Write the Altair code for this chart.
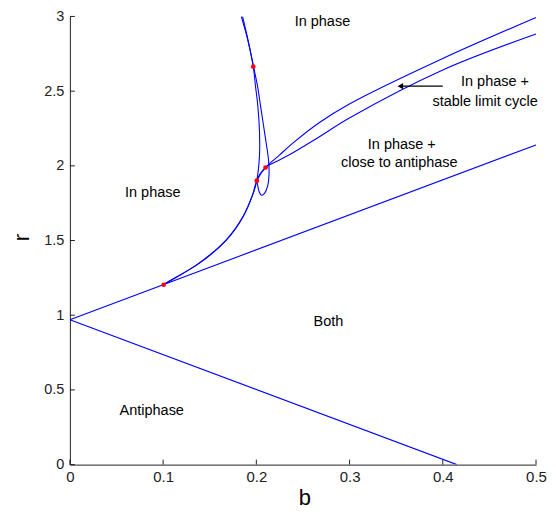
import altair as alt
import pandas as pd

# Straight boundaries
line_up_b = [0.0, 0.5]
line_up_r = [0.97, 2.14]
line_down_b = [0.0, 0.415]
line_down_r = [0.97, 0.0]

# Curve A: from tangent point up the left branch to the top
curveA_b = [0.1006, 0.1017, 0.1392, 0.1678, 0.1855, 0.1963, 0.2005, 0.2034, 0.2034, 0.2016, 0.1991, 0.1967, 0.1909, 0.1838]
curveA_r = [1.204, 1.211, 1.349, 1.502, 1.656, 1.809, 1.901, 2.072, 2.226, 2.401, 2.533, 2.664, 2.840, 3.0]

# Curve B: from the top, right branch, loop, then lower ray
curveB_b = [0.1852, 0.1911, 0.1970, 0.2013, 0.2045, 0.2077, 0.2109, 0.2131, 0.2136, 0.2120, 0.2088, 0.2056, 0.2029, 0.2013, 0.2005,
            0.2099, 0.2248, 0.2388, 0.2677, 0.2998, 0.3994, 0.5]
curveB_r = [3.0, 2.842, 2.664, 2.533, 2.401, 2.270, 2.138, 2.039, 1.941, 1.862, 1.816, 1.803, 1.829, 1.875, 1.901,
            1.989, 2.039, 2.086, 2.195, 2.320, 2.640, 2.882]

# Curve C: from tangent point up to the cusp, then upper ray
curveC_b = [0.1006, 0.1392, 0.1678, 0.1855, 0.1963, 0.2005, 0.2099, 0.2248, 0.2388, 0.2677, 0.2998, 0.3994, 0.5]
curveC_r = [1.204, 1.352, 1.505, 1.659, 1.812, 1.901, 1.989, 2.072, 2.150, 2.290, 2.414, 2.717, 2.993]

# Special points
dots_b = [0.1006, 0.2005, 0.2099, 0.1967]
dots_r = [1.204, 1.901, 1.989, 2.664]

# Region labels
label_text = ["In phase", "In phase +", "stable limit cycle", "In phase +", "close to antiphase", "In phase", "Both", "Antiphase"]
label_b = [0.2709, 0.4560, 0.4454, 0.3560, 0.3533, 0.0889, 0.2773, 0.0878]
label_r = [2.960, 2.560, 2.428, 2.140, 2.020, 1.816, 0.954, 0.362]

# Arrow
arrow_b = [0.4000]
arrow_b2 = [0.3545]
arrow_r = [2.533]

x_ticks = [0, 0.1, 0.2, 0.3, 0.4, 0.5]
y_ticks = [0, 0.5, 1, 1.5, 2, 2.5, 3]

W, H = 467, 449
FONT = "Liberation Sans"

rows = []
for name, bs, rs in [("up", line_up_b, line_up_r), ("down", line_down_b, line_down_r),
                     ("A", curveA_b, curveA_r), ("B", curveB_b, curveB_r), ("C", curveC_b, curveC_r)]:
    for i, (b, r) in enumerate(zip(bs, rs)):
        rows.append({"curve": name, "i": i, "b": b, "r": r})
curves = pd.DataFrame(rows)

xs = alt.Scale(domain=[0, 0.5], nice=False, zero=False)
ys = alt.Scale(domain=[0, 3], nice=False, zero=False)

base_x = alt.X("b:Q", scale=xs, axis=alt.Axis(
    values=x_ticks, ticks=False, grid=False, format="~g", labelFontSize=15, labelFont=FONT,
    labelColor="#222", domainColor="#222", labelPadding=5, labelFlush=False, title="b", titleFont=FONT,
    titleFontSize=22, titleFontWeight="normal", titleColor="#000", titleX=235, titleY=33,
    titleBaseline="middle", titleAnchor="start", titleAlign="center"))
base_y = alt.Y("r:Q", scale=ys, axis=alt.Axis(
    values=y_ticks, ticks=False, grid=False, format="~g", labelFontSize=14.5, labelFont=FONT,
    labelColor="#222", domainColor="#222", labelPadding=6, labelFlush=False, title="r", titleFont=FONT,
    titleFontSize=22, titleFontWeight="normal", titleColor="#000", titleX=-48, titleY=221,
    titleBaseline="middle", titleAlign="center", titleAngle=-90, titleAnchor="start"))

lines = alt.Chart(curves).mark_line(color="#0000ff", strokeWidth=1.1, clip=True,
                                    interpolate="catmull-rom").encode(
    x=base_x, y=base_y, detail="curve:N", order="i:Q")

dots = alt.Chart(pd.DataFrame({"b": dots_b, "r": dots_r})).mark_point(
    shape="circle", filled=True, color="#ff0000", size=22, opacity=1).encode(
    x=alt.X("b:Q", scale=xs), y=alt.Y("r:Q", scale=ys))

labels = alt.Chart(pd.DataFrame({"t": label_text, "b": label_b, "r": label_r})).mark_text(
    font=FONT, fontSize=14.5, color="#000", align="center", baseline="middle").encode(
    x=alt.X("b:Q", scale=xs), y=alt.Y("r:Q", scale=ys), text="t:N")

arrow_df = pd.DataFrame({"b": arrow_b, "b2": arrow_b2, "r": arrow_r})
arrow_line = alt.Chart(arrow_df).mark_rule(color="#000", strokeWidth=1.2).encode(
    x=alt.X("b:Q", scale=xs), x2="b2:Q", y=alt.Y("r:Q", scale=ys))
arrow_head = alt.Chart(arrow_df).mark_point(
    shape="triangle-left", filled=True, color="#000", size=40, opacity=1).encode(
    x=alt.X("b2:Q", scale=xs), y=alt.Y("r:Q", scale=ys))

xt = alt.Chart(pd.DataFrame({"b": x_ticks})).mark_rule(color="#222", strokeWidth=1).encode(
    x=alt.X("b:Q", scale=xs), y=alt.value(H), y2=alt.value(H - 5))
yt = alt.Chart(pd.DataFrame({"r": y_ticks})).mark_rule(color="#222", strokeWidth=1).encode(
    y=alt.Y("r:Q", scale=ys), x=alt.value(0), x2=alt.value(5))

chart = alt.layer(lines, xt, yt, arrow_line, arrow_head, dots, labels).properties(
    width=W, height=H,
    autosize=alt.AutoSizeParams(type="none"),
    padding={"left": 62, "top": 8, "right": 12, "bottom": 44},
).configure_view(stroke=None).configure_axis(domainWidth=1)

chart.save("out.html", embed_options={"renderer": "svg", "actions": False})
